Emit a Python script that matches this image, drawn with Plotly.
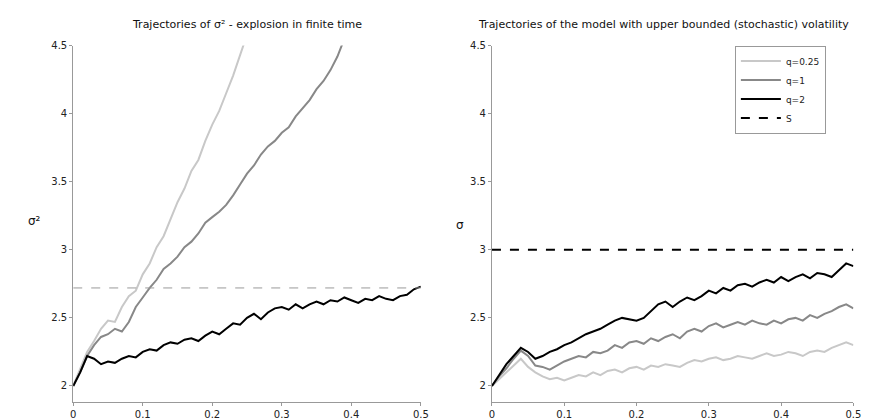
import plotly.graph_objects as go

t = [round(i * 0.01, 2) for i in range(51)]

# Left panel: sigma^2 trajectories (blow up)
left_q025 = [2.00, 2.12, 2.25, 2.33, 2.42, 2.48, 2.47, 2.58, 2.66, 2.70, 2.82, 2.90, 3.02, 3.10,
             3.22, 3.35, 3.45, 3.58, 3.66, 3.80, 3.92, 4.02, 4.15, 4.28, 4.43, 4.58]
left_q1 = [2.00, 2.10, 2.22, 2.30, 2.36, 2.38, 2.42, 2.40, 2.47, 2.58, 2.65, 2.72, 2.78, 2.86,
           2.90, 2.95, 3.02, 3.06, 3.12, 3.20, 3.24, 3.28, 3.33, 3.40, 3.48, 3.56, 3.62, 3.70,
           3.76, 3.80, 3.86, 3.90, 3.98, 4.04, 4.10, 4.18, 4.24, 4.32, 4.42, 4.55]
left_q2 = [2.00, 2.10, 2.22, 2.20, 2.16, 2.18, 2.17, 2.20, 2.22, 2.21, 2.25, 2.27, 2.26, 2.30,
           2.32, 2.31, 2.34, 2.35, 2.33, 2.37, 2.40, 2.38, 2.42, 2.46, 2.45, 2.50, 2.53, 2.49,
           2.54, 2.57, 2.58, 2.56, 2.60, 2.57, 2.60, 2.62, 2.60, 2.63, 2.62, 2.65, 2.63, 2.61,
           2.64, 2.63, 2.66, 2.64, 2.63, 2.66, 2.67, 2.71, 2.73]
left_level = 2.72

# Right panel: bounded volatility
right_q025 = [2.00, 2.05, 2.10, 2.15, 2.20, 2.14, 2.10, 2.07, 2.05, 2.06, 2.04, 2.06, 2.08, 2.07,
              2.10, 2.08, 2.11, 2.12, 2.10, 2.13, 2.14, 2.12, 2.15, 2.14, 2.16, 2.15, 2.14, 2.17,
              2.19, 2.18, 2.20, 2.21, 2.19, 2.20, 2.22, 2.21, 2.20, 2.22, 2.24, 2.22, 2.23, 2.25,
              2.24, 2.22, 2.25, 2.26, 2.25, 2.28, 2.30, 2.32, 2.30]
right_q1 = [2.00, 2.07, 2.13, 2.20, 2.26, 2.22, 2.15, 2.14, 2.12, 2.15, 2.18, 2.20, 2.22, 2.21,
            2.25, 2.24, 2.26, 2.30, 2.28, 2.32, 2.33, 2.31, 2.35, 2.33, 2.36, 2.38, 2.35, 2.40,
            2.42, 2.40, 2.44, 2.46, 2.43, 2.45, 2.47, 2.45, 2.48, 2.46, 2.45, 2.48, 2.46, 2.49,
            2.50, 2.48, 2.52, 2.50, 2.53, 2.55, 2.58, 2.60, 2.57]
right_q2 = [2.00, 2.08, 2.16, 2.22, 2.28, 2.25, 2.20, 2.22, 2.25, 2.27, 2.30, 2.32, 2.35, 2.38,
            2.40, 2.42, 2.45, 2.48, 2.50, 2.49, 2.48, 2.50, 2.55, 2.60, 2.62, 2.58, 2.62, 2.65,
            2.63, 2.66, 2.70, 2.68, 2.72, 2.70, 2.74, 2.75, 2.73, 2.76, 2.78, 2.76, 2.80, 2.77,
            2.80, 2.82, 2.79, 2.83, 2.82, 2.80, 2.85, 2.90, 2.88]
right_level = 3.0

legend_names = ["q=0.25", "q=1", "q=2", "S"]
colors = ["#c8c8c8", "#888888", "#000000"]

x_ticks = [0, 0.1, 0.2, 0.3, 0.4, 0.5]
x_ticktext = ["0", "0.1", "0.2", "0.3", "0.4", "0.5"]
y_ticks = [2, 2.5, 3, 3.5, 4, 4.5]
y_ticktext = ["2", "2.5", "3", "3.5", "4", "4.5"]

fig = go.Figure()

left_series = [left_q025, left_q1, left_q2]
right_series = [right_q025, right_q1, right_q2]
for i, ys in enumerate(left_series):
    fig.add_trace(go.Scatter(x=t[:len(ys)], y=ys, mode="lines", xaxis="x", yaxis="y",
                             line=dict(color=colors[i], width=2), showlegend=False))
fig.add_trace(go.Scatter(x=[t[0], t[-1]], y=[left_level, left_level], mode="lines",
                         xaxis="x", yaxis="y", line=dict(color="#999999", width=1, dash="dash"),
                         showlegend=False))
for i, ys in enumerate(right_series):
    fig.add_trace(go.Scatter(x=t[:len(ys)], y=ys, mode="lines", xaxis="x2", yaxis="y2",
                             line=dict(color=colors[i], width=2), name=legend_names[i]))
fig.add_trace(go.Scatter(x=[t[0], t[-1]], y=[right_level, right_level], mode="lines",
                         xaxis="x2", yaxis="y2", line=dict(color="#000000", width=2, dash="dash"),
                         name=legend_names[3]))

axis_common = dict(showgrid=False, zeroline=False, showline=True, linecolor="#999999",
                   linewidth=1, ticks="outside", ticklen=3, tickcolor="#999999",
                   tickfont=dict(family="DejaVu Sans", size=10, color="#222222"))

yr = [1.88, 4.5]
bottom_px = 394
top_px = 33
fig.update_layout(
    width=884, height=420,
    margin=dict(l=0, r=0, t=0, b=0),
    paper_bgcolor="white", plot_bgcolor="white",
    xaxis=dict(domain=[63/884, 415/884], range=[0, 0.5], anchor="y",
               tickvals=x_ticks, ticktext=x_ticktext, **axis_common),
    yaxis=dict(domain=[1 - bottom_px/420, 1 - top_px/420], range=yr, anchor="x",
               tickvals=y_ticks, ticktext=y_ticktext, **axis_common),
    xaxis2=dict(domain=[487/884, 853/884], range=[0, 0.5], anchor="y2",
                tickvals=x_ticks, ticktext=x_ticktext, **axis_common),
    yaxis2=dict(domain=[1 - bottom_px/420, 1 - top_px/420], range=yr, anchor="x2",
                tickvals=y_ticks, ticktext=y_ticktext, **axis_common),
    legend=dict(x=733/884, y=1 - 33/420, xanchor="left", yanchor="top",
                bgcolor="white", bordercolor="#999999", borderwidth=1,
                font=dict(family="DejaVu Sans", size=9, color="#222222"),
                tracegroupgap=0, itemwidth=40),
    annotations=[
        dict(text="Trajectories of σ² - explosion in finite time", x=(63+415)/2/884, y=1 - 12/420,
             xref="paper", yref="paper", showarrow=False, xanchor="center", yanchor="middle",
             font=dict(family="DejaVu Sans", size=11, color="#111111")),
        dict(text="Trajectories of the model with upper bounded (stochastic) volatility",
             x=(487+853)/2/884 - 0.01, y=1 - 12/420,
             xref="paper", yref="paper", showarrow=False, xanchor="center", yanchor="middle",
             font=dict(family="DejaVu Sans", size=11, color="#111111")),
        dict(text="σ²", x=15/884, y=1 - 210/420, xref="paper", yref="paper", showarrow=False,
             font=dict(family="DejaVu Sans", size=12, color="#111111")),
        dict(text="σ", x=455/884, y=1 - 215/420, xref="paper", yref="paper", showarrow=False,
             font=dict(family="DejaVu Sans", size=12, color="#111111")),
    ],
)

fig.write_html("out.html")
